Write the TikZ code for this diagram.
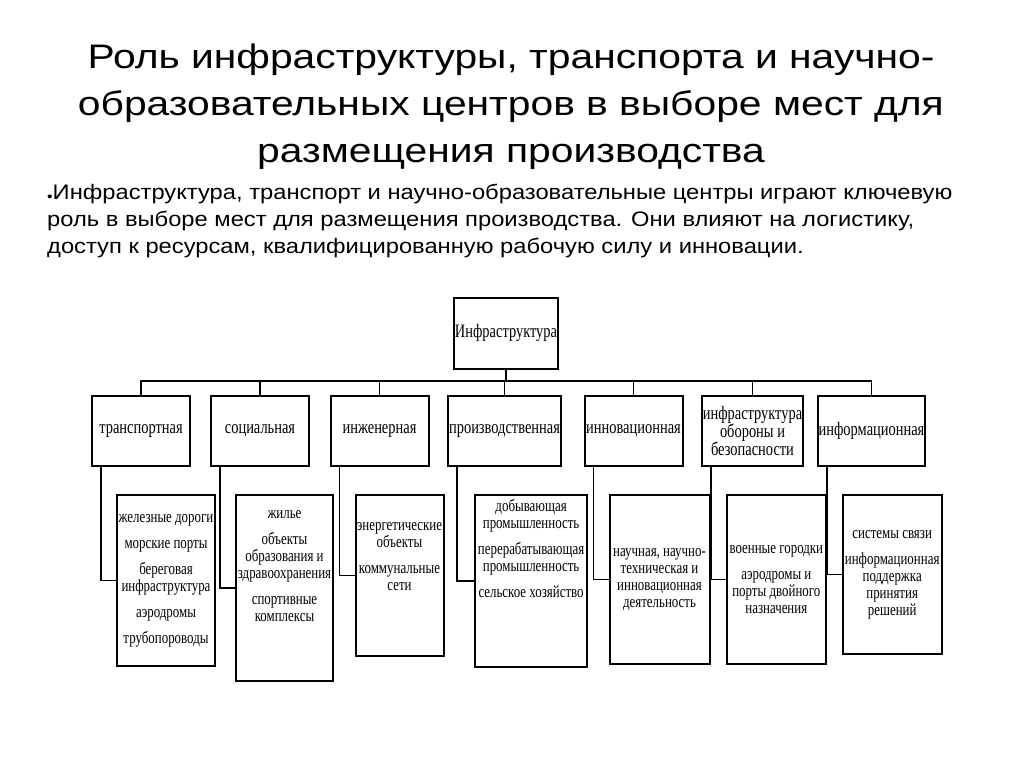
\documentclass[tikz,border=0pt]{standalone}
\usepackage{fontspec}
\setmainfont{Liberation Serif}
\newfontfamily\diagfont[FakeStretch=0.76]{Liberation Serif}
\newfontfamily\titlefont[FakeStretch=1.2]{Liberation Sans}
\newfontfamily\introfont[FakeStretch=1.13]{Liberation Sans}
\usetikzlibrary{positioning}

\begin{document}
\begin{tikzpicture}[x=1pt, y=-1pt,
        box/.style={draw, line width=2pt, align=center, inner sep=1pt, font=\diagfont\fontsize{17}{17}\selectfont},
        katbox/.style={box, minimum width=98pt, minimum height=70pt, font=\diagfont\fontsize{19}{18}\selectfont},
        listbox/.style={box, anchor=north west},
        link/.style={line width=1.7pt}]
        \useasboundingbox (0,0) rectangle (1024,767);

        % title and text
        \node[font=\titlefont\fontsize{34}{47}\selectfont, align=center, anchor=north, inner sep=0pt] (title) at (511,44)
            {Роль инфраструктуры, транспорта и научно-\\образовательных центров в выборе мест для\\размещения производства};
        \node[font=\introfont\fontsize{21}{27}\selectfont, align=left, anchor=north west, inner sep=0pt] (intro) at (47,184)
            {{\fontsize{14}{14}\selectfont\raisebox{-2pt}{•}}Инфраструктура, транспорт и научно-образовательные центры играют ключевую\\
             роль в выборе мест для размещения производства. Они влияют на логистику,\\
             доступ к ресурсам, квалифицированную рабочую силу и инновации.};

        % top level
        \node[box, minimum width=99pt, minimum height=71pt, font=\diagfont\fontsize{19}{18}\selectfont] (infra) at (506,333) {Инфраструктура};
        \coordinate (bus) at (506,381);

        % categories
        \node[katbox] (kat1) at (141,431) {транспортная};
        \node[katbox] (kat2) at (260,431) {социальная};
        \node[katbox] (kat3) at (379.5,431) {инженерная};
        \node[katbox, minimum width=111pt] (kat4) at (504.5,431) {производственная};
        \node[katbox] (kat5) at (633.5,431) {инновационная};
        \node[katbox] (kat6) at (752.5,431) {инфраструктура\\обороны и\\безопасности};
        \node[katbox] (kat7) at (871.5,431) {информационная};

        \foreach \i in {1,...,7}
            \draw[link] (infra.south) -- (infra.south |- bus) -| (kat\i.north);

        % lists
        \node[listbox, minimum width=98pt, minimum height=171pt, below right=27pt and 25pt of kat1.south west] (sp1)
            {железные дороги\\[9pt]морские порты\\[9pt]береговая\\инфраструктура\\[9pt]аэродромы\\[9pt]трубопороводы};
        \node[listbox, minimum width=97pt, minimum height=186pt, below right=27pt and 25pt of kat2.south west] (sp2)
            {жилье\\[9pt]объекты\\образования и\\здравоохранения\\[9pt]спортивные\\комплексы\\[28pt]};
        \node[listbox, minimum width=88pt, minimum height=161pt, below right=27pt and 25pt of kat3.south west] (sp3)
            {энергетические\\объекты\\[9pt]коммунальные\\сети\\[22pt]};
        \node[listbox, minimum width=112pt, minimum height=172pt, below right=27pt and 27pt of kat4.south west] (sp4)
            {добывающая\\промышленность\\[9pt]перерабатывающая\\промышленность\\[9pt]сельское хозяйство\\[48pt]};
        \node[listbox, minimum width=100pt, minimum height=169pt, below right=27pt and 25pt of kat5.south west] (sp5)
            {научная, научно-\\техническая и\\инновационная\\деятельность};
        \node[listbox, minimum width=99pt, minimum height=169pt, below right=27pt and 25pt of kat6.south west] (sp6)
            {военные городки\\[9pt]аэродромы и\\порты двойного\\назначения};
        \node[listbox, minimum width=99pt, minimum height=159pt, below right=27pt and 25pt of kat7.south west] (sp7)
            {системы связи\\[9pt]информационная\\поддержка\\принятия\\решений};

        \foreach \i in {1,...,7}
            \draw[link] ([xshift=10pt]kat\i.south west) |- (sp\i.west);
\end{tikzpicture}
\end{document}
